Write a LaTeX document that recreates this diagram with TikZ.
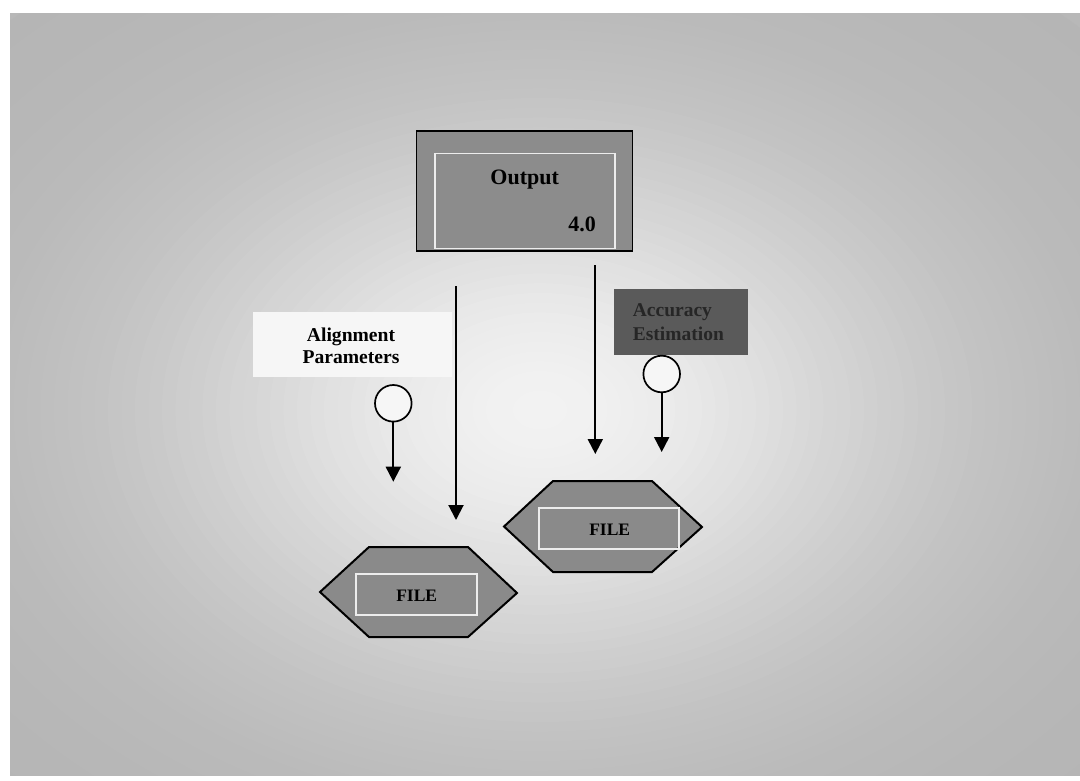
\documentclass[tikz,border=0pt]{standalone}
\usepackage{fontspec}
\setmainfont{Liberation Serif}
\usetikzlibrary{arrows.meta}
\definecolor{outfill}{HTML}{8C8C8C}
\definecolor{accfill}{HTML}{5A5A5A}
\definecolor{acctext}{HTML}{262626}
\definecolor{hexfill}{HTML}{8A8A8A}
\definecolor{alignfill}{HTML}{F6F6F6}
\definecolor{innerline}{HTML}{EDEDED}
\begin{document}
\begin{tikzpicture}[x=1pt,y=-1pt,
  arr/.style={line width=2pt,-{Triangle[width=15pt,length=15pt]}},
  innerbox/.style={draw=innerline,line width=1.1pt,inner sep=0pt},
  hexshape/.style={draw=black,line width=2pt,fill=hexfill,line join=miter},
  bold/.style={font=\fontsize{#1}{#1}\selectfont\bfseries,inner sep=0pt},
  knot/.style={circle,draw=black,line width=1.7pt,fill=alignfill,minimum size=36.6pt,inner sep=0pt}]
\useasboundingbox (0,0) rectangle (1080,780);
\fill[white] (0,0) rectangle (1080,780);
\begin{scope}
  \clip (10,13) rectangle (1080,775);
  \fill[black!28] (10,13) rectangle (1080,775);
  \foreach \i in {0,...,56}{
    \pgfmathsetmacro\t{1.4-\i*0.025}
    \pgfmathsetmacro\g{(180+62*exp(-(\t/0.7)^2))/255}
    \definecolor{bgcur}{gray}{\g}
    \fill[bgcur] (540,410) ellipse [x radius=\t*540, y radius=\t*390];
  }
\end{scope}

% Output box
\node[draw=black,line width=1.5pt,fill=outfill,minimum width=216pt,minimum height=119.7pt,inner sep=0pt] (out) at (524.7,190.9) {};
\node[innerbox,minimum width=180pt,minimum height=95pt] (outin) at (525,200.8) {};
\node[bold=22,anchor=base] (outlabel) at (524.7,184) {Output};
\node[bold=22,anchor=base] (outnum) at (582,231) {4.0};

% Alignment Parameters
\node[fill=alignfill,minimum width=199pt,minimum height=65pt,inner sep=0pt] (align) at (352.5,344) {};
\node[bold=19.6,anchor=base] (alignA) at (351,341.7) {Alignment};
\node[bold=19.6,anchor=base] (alignB) at (351,363.3) {Parameters};

% Accuracy Estimation
\node[fill=accfill,minimum width=133.4pt,minimum height=65.7pt,inner sep=0pt] (acc) at (681,322.2) {};
\node[bold=19.5,anchor=base west,text=acctext] (accA) at (632.7,316.7) {Accuracy};
\node[bold=19.5,anchor=base west,text=acctext] (accB) at (632.7,340) {Estimation};

% circles
\node[knot] (c1) at (393.3,403.3) {};
\node[knot] (c2) at (661.7,374) {};

% coordinates for arrow ends
\coordinate (t1) at (393.3,481.7);
\coordinate (t2) at (661.7,452);
\coordinate (s3) at (456,286);
\coordinate (t3) at (456,520);
\coordinate (s4) at (595.3,265);
\coordinate (t4) at (595.3,454);

% hexagons
\draw[hexshape] (504,526.5) -- (553,481) -- (652,481) -- (702,527) -- (652,572) -- (553,572) -- cycle;
\draw[hexshape] (320,592) -- (369,547) -- (468,547) -- (517,593) -- (468,637) -- (369,637) -- cycle;
\node[innerbox,minimum width=140pt,minimum height=41pt] (fileR) at (609,528.5) {};
\node[innerbox,minimum width=121pt,minimum height=41pt] (fileL) at (416.5,594.5) {};
\node[bold=17.5,anchor=base] (fileRt) at (609.7,535.7) {FILE};
\node[bold=17.5,anchor=base] (fileLt) at (416.7,601.7) {FILE};

% arrows
\draw[arr] (c1.south) -- (t1);
\draw[arr] (c2.south) -- (t2);
\draw[arr] (s3) -- (t3);
\draw[arr] (s4) -- (t4);
\end{tikzpicture}
\end{document}
